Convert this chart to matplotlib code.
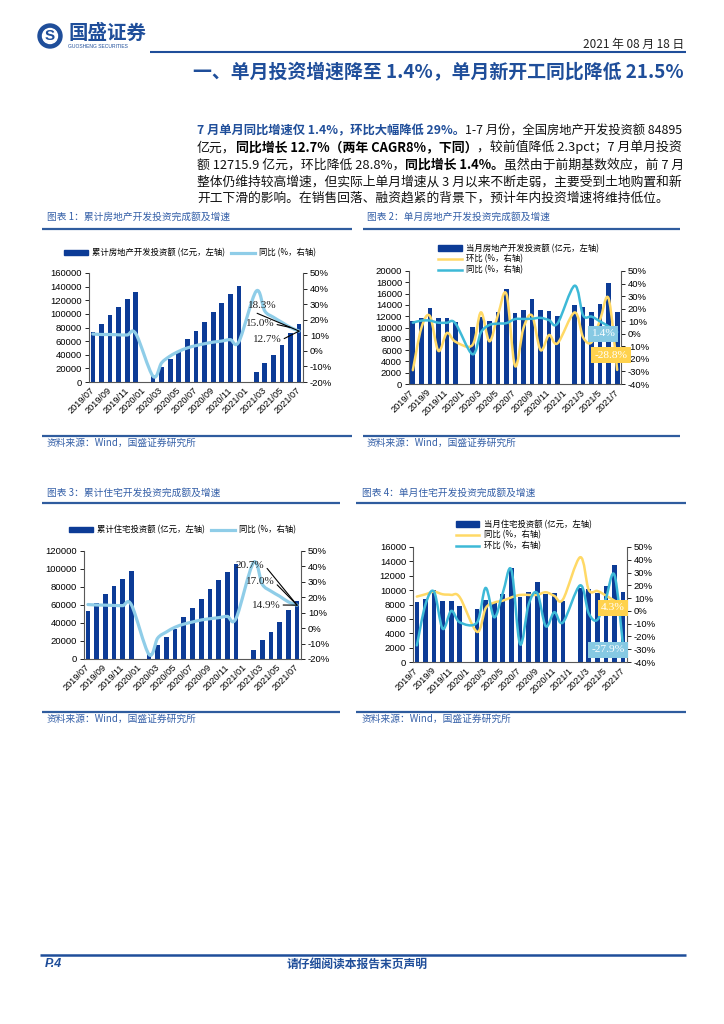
import numpy as np
import matplotlib
matplotlib.use("Agg")
import matplotlib.pyplot as plt
from matplotlib.path import Path
from matplotlib.patches import PathPatch, Patch, Circle
from matplotlib.lines import Line2D

W, H = 724, 1024
plt.rcParams['font.family'] = ['Noto Sans CJK SC', 'DejaVu Sans']
NUM_FONT = ['Liberation Sans', 'DejaVu Sans']
SERIF = ['Liberation Serif', 'DejaVu Serif']

BAR = '#0C3B96'
SKY = '#8FCDE8'
YEL = '#FFD966'
CYAN = '#3DB9D7'
NAVY = '#1F4E9A'
CAP = '#3560A8'

# ---------------- data (Jan is merged into Feb -> None) ----------------
xlab_c = ['2019/07', '2019/09', '2019/11', '2020/01', '2020/03', '2020/05', '2020/07',
          '2020/09', '2020/11', '2021/01', '2021/03', '2021/05', '2021/07']
xlab_m = ['2019/7', '2019/9', '2019/11', '2020/1', '2020/3', '2020/5', '2020/7',
          '2020/9', '2020/11', '2021/1', '2021/3', '2021/5', '2021/7']

cum_inv = [72843, 84589, 98008, 109603, 121265, 132194, None, 10115, 21963, 33103, 45920, 62780,
           75325, 88454, 103484, 116556, 129492, 141443, None, 13986, 27576, 40240, 54318, 72179, 84895]
cum_inv_yoy = [10.8, 10.5, 10.5, 10.3, 10.2, 11.0, None, -16.3, -7.7, -3.3, -0.3, 1.9,
               3.4, 4.6, 5.6, 6.3, 7.2, 6.0, None, 38.3, 25.6, 21.6, 18.3, 15.0, 12.7]

mon_inv = [11234, 11746, 13419, 11595, 11662, 10929, None, 10115, 11848, 11140, 12817, 16860,
           12545, 13129, 15030, 13072, 12936, 11951, None, 13986, 13590, 12664, 14078, 17861, 12716]
mon_inv_mom = [-29.0, 4.6, 14.2, -13.6, 0.6, -6.3, None, -9.0, 17.1, -6.0, 15.1, 31.5,
               -25.6, 4.7, 14.5, -13.0, -1.0, -7.6, None, 17.0, -2.8, -6.8, 11.2, 28.0, -28.8]
mon_inv_yoy = [8.8, 10.5, 10.5, 8.8, 8.8, 8.3, None, -16.3, 1.1, 7.0, 8.1, 8.5,
               11.7, 11.8, 12.0, 12.7, 10.9, 8.3, None, 38.3, 14.7, 13.7, 9.8, 5.9, 1.4]

cum_res = [53700, 62400, 72000, 80600, 89000, 97600, None, 6900, 15800, 24000, 33300, 47000,
           56300, 66300, 77400, 87800, 96300, 105500, None, 10000, 21100, 30300, 40700, 54400, 64400]
cum_res_yoy = [15.3, 15.0, 14.9, 14.7, 14.6, 15.0, None, -17.0, -6.5, -2.5, 0.6, 2.6,
               4.0, 5.3, 6.1, 6.8, 7.6, 6.4, None, 42.5, 28.5, 24.0, 20.7, 17.0, 14.9]

mon_res = [8300, 8770, 10030, 8540, 8540, 7790, None, 7320, 8630, 8160, 9470, 13060,
           9100, 9700, 11100, 9470, 9560, 8540, None, 10360, 10200, 9560, 10590, 13480, 9700]
mon_res_yoy = [11.2, 13.0, 15.0, 13.0, 12.5, 10.6, None, -16.4, 2.0, 6.5, 8.0, 10.6,
               12.5, 12.5, 12.5, 14.6, 11.7, 9.0, None, 42.0, 16.4, 15.6, 12.0, 8.0, 4.3]
mon_res_mom = [-27.0, 5.0, 15.0, -14.0, 0.0, -9.0, None, -9.0, 18.0, -5.0, 14.0, 32.0,
               -26.0, 5.0, 14.0, -12.0, -1.0, -9.0, None, 20.0, -2.0, -7.0, 10.0, 28.0, -27.9]


def smooth_path(vals):
    pts = np.array([(i, v) for i, v in enumerate(vals) if v is not None], dtype=float)
    verts = [pts[0]]
    codes = [Path.MOVETO]
    n = len(pts)
    for i in range(n - 1):
        p0 = pts[i - 1] if i > 0 else pts[i]
        p1, p2 = pts[i], pts[i + 1]
        p3 = pts[i + 2] if i + 2 < n else pts[i + 1]
        verts += [p1 + (p2 - p0) / 6, p2 - (p3 - p1) / 6, p2]
        codes += [Path.CURVE4] * 3
    return Path(verts, codes)


fig = plt.figure(figsize=(W / 100, H / 100), dpi=100)
bg = fig.add_axes([0, 0, 1, 1])
bg.set_xlim(0, W)
bg.set_ylim(H, 0)
bg.axis('off')


def chart(box, bars, lines, lmax, lstep, rmin, rmax, xlabels):
    x0, y0, x1, y1 = box
    ax = fig.add_axes([x0 / W, 1 - y1 / H, (x1 - x0) / W, (y1 - y0) / H])
    bx = [i for i, v in enumerate(bars) if v is not None]
    ax.bar(bx, [bars[i] for i in bx], width=0.55, color=BAR, zorder=2)
    ax.set_xlim(-0.45, len(bars) - 0.55)
    ax.set_ylim(0, lmax)
    ax.set_yticks(np.arange(0, lmax + 1, lstep))
    ax.set_xticks(range(0, len(bars), 2))
    ax.set_xticklabels(xlabels, rotation=45, ha='right', va='center', rotation_mode='anchor')
    ax.tick_params(axis='y', direction='out', length=3, width=0.6, labelsize=6.8, pad=2)
    ax.tick_params(axis='x', length=0, labelsize=6.6, pad=5)
    for s in ['top', 'right']:
        ax.spines[s].set_visible(False)
    for s in ['left', 'bottom']:
        ax.spines[s].set_color('#595959')
        ax.spines[s].set_linewidth(0.8)
    ax2 = ax.twinx()
    for vals, col, lw in lines:
        ax2.add_patch(PathPatch(smooth_path(vals), fill=False, ec=col, lw=lw,
                                capstyle='round', joinstyle='round', zorder=3))
    ax2.set_ylim(rmin, rmax)
    rt = np.arange(rmin, rmax + 1, 10)
    ax2.set_yticks(rt)
    ax2.set_yticklabels([f'{v}%' for v in rt])
    ax2.tick_params(axis='y', direction='out', length=3, width=0.6, labelsize=6.8, pad=2)
    for s in ['top', 'left', 'bottom']:
        ax2.spines[s].set_visible(False)
    ax2.spines['right'].set_color('#595959')
    ax2.spines['right'].set_linewidth(0.8)
    for lab in ax.get_xticklabels() + ax.get_yticklabels() + ax2.get_yticklabels():
        lab.set_fontfamily(NUM_FONT)
    return ax, ax2


def legend(handles, labels, x, y, ncol):
    fig.legend(handles, labels, loc='center left', bbox_to_anchor=(x / W, 1 - y / H),
               ncol=ncol, frameon=False, fontsize=6, borderpad=0, handlelength=2.8,
               handleheight=0.6, handletextpad=0.5, columnspacing=0.8, labelspacing=0.2)


bar_h = Patch(color=BAR)

# chart 1
a1, b1 = chart((89, 273, 303, 382), cum_inv, [(cum_inv_yoy, SKY, 2.3)], 160000, 20000, -20, 50, xlab_c)
legend([bar_h, Line2D([], [], color=SKY, lw=2.3)],
       ['累计房地产开发投资额 (亿元，左轴)', '同比 (%，右轴)'], 60, 253, 2)

# chart 2
a2, b2 = chart((409, 271, 621, 384), mon_inv, [(mon_inv_mom, YEL, 1.8), (mon_inv_yoy, CYAN, 1.8)],
               20000, 2000, -40, 50, xlab_m)
legend([bar_h, Line2D([], [], color=YEL, lw=1.8), Line2D([], [], color=CYAN, lw=1.8)],
       ['当月房地产开发投资额 (亿元，左轴)', '环比 (%，右轴)', '同比 (%，右轴)'], 434, 259, 1)

# chart 3
a3, b3 = chart((84, 551, 301, 659), cum_res, [(cum_res_yoy, SKY, 2.3)], 120000, 20000, -20, 50, xlab_c)
legend([bar_h, Line2D([], [], color=SKY, lw=2.3)],
       ['累计住宅投资额 (亿元，左轴)', '同比 (%，右轴)'], 65, 530, 2)

# chart 4
a4, b4 = chart((413, 547, 627, 662), mon_res, [(mon_res_yoy, YEL, 1.8), (mon_res_mom, CYAN, 1.8)],
               16000, 2000, -40, 50, xlab_m)
legend([bar_h, Line2D([], [], color=YEL, lw=1.8), Line2D([], [], color=CYAN, lw=1.8)],
       ['当月住宅投资额 (亿元，左轴)', '同比 (%，右轴)', '环比 (%，右轴)'], 452, 535, 1)

top = fig.add_axes([0, 0, 1, 1])
top.set_xlim(0, W)
top.set_ylim(H, 0)
top.axis('off')

# leader-line labels on cumulative charts
ann = dict(arrowstyle='-', color='black', lw=0.8, shrinkA=0, shrinkB=0)
for ax2, vals, items in [(b1, cum_inv_yoy, [(22, 262, 306, (0.1, 0)), (23, 260, 324, (1, 0.5)), (24, 267, 340, (1, 0.5))]),
                         (b3, cum_res_yoy, [(22, 250, 565, (1, 0.5)), (23, 260, 582, (1, 0.5)), (24, 266, 605, (1, 0.5))])]:
    last = len(vals) - 1
    for i, tx, ty, rp in items:
        target = (last, vals[last]) if i != 23 or ax2 is b3 else (23, vals[23])
        ax2.annotate(f'{vals[i]:.1f}%', xy=target, xycoords='data', xytext=(tx, ty),
                     textcoords=top.transData, ha='center', va='center', fontsize=8,
                     family=SERIF, color='#222222',
                     arrowprops=dict(ann, relpos=rp), zorder=5)

# boxed labels on monthly charts
for tx, ty, s, fc in [(603, 334, f'{mon_inv_yoy[-1]:.1f}%', '#86C9E3'),
                      (611, 355, f'{mon_inv_mom[-1]:.1f}%', '#FFD24D'),
                      (613, 608, f'{mon_res_yoy[-1]:.1f}%', '#FFD24D'),
                      (608, 650, f'{mon_res_mom[-1]:.1f}%', '#86C9E3')]:
    top.text(tx, ty, s, ha='center', va='center', fontsize=8.2, color='white', family=SERIF,
             bbox=dict(boxstyle='square,pad=0.3', fc=fc, ec='none'), zorder=6)

# ---------------- page furniture ----------------
bg.add_patch(Circle((50, 36), 12, color=NAVY))
bg.add_patch(Circle((50, 36), 7.5, color='white'))
bg.text(50, 36.5, 'S', ha='center', va='center', fontsize=11, fontweight='bold', color=NAVY, family=NUM_FONT)
bg.text(68, 33, '国盛证券', ha='left', va='center', fontsize=14, fontweight='bold', color=NAVY)
bg.text(68, 46, 'GUOSHENG SECURITIES', ha='left', va='center', fontsize=3.6, color=NAVY, family=NUM_FONT)
bg.text(684, 44, '2021 年 08 月 18 日', ha='right', va='center', fontsize=8.5, color='#222222')
bg.plot([150, 686], [52, 52], color=NAVY, lw=1.5, solid_capstyle='butt')
bg.text(684, 73, '一、单月投资增速降至 1.4%，单月新开工同比降低 21.5%', ha='right', va='center',
        fontsize=13.6, fontweight='bold', color=NAVY)

STY = {'b': dict(color=NAVY, fontweight='bold'),
       'k': dict(color='black', fontweight='bold'),
       'n': dict(color='#111111')}
para = [
    [('7 月单月同比增速仅 1.4%，环比大幅降低 29%。', 'b'), ('1-7 月份，全国房地产开发投资额 84895', 'n')],
    [('亿元，', 'n'), ('同比增长 12.7%（两年 CAGR8%，下同）', 'k'), ('，较前值降低 2.3pct；7 月单月投资', 'n')],
    [('额 12715.9 亿元，环比降低 28.8%，', 'n'), ('同比增长 1.4%。', 'k'), ('虽然由于前期基数效应，前 7 月', 'n')],
    [('整体仍维持较高增速，但实际上单月增速从 3 月以来不断走弱，主要受到土地购置和新', 'n')],
    [('开工下滑的影响。在销售回落、融资趋紧的背景下，预计年内投资增速将维持低位。', 'n')],
]
rows = []
for k, segs in enumerate(para):
    y = 131 + 16.9 * k
    objs, prev = [], None
    for s, st in segs:
        if prev is None:
            t = bg.text(197, y, s, ha='left', va='center', fontsize=9, **STY[st])
        else:
            t = bg.annotate(s, xy=(1, 0), xycoords=prev, ha='left', va='bottom', fontsize=9, **STY[st])
        objs.append(t)
        prev = t
    rows.append(objs)

# captions and rules
for x, y, s in [(47, 217, '图表 1：累计房地产开发投资完成额及增速'), (367, 217, '图表 2：单月房地产开发投资完成额及增速'),
                (47, 493, '图表 3：累计住宅开发投资完成额及增速'), (362, 493, '图表 4：单月住宅开发投资完成额及增速'),
                (47, 443, '资料来源：Wind，国盛证券研究所'), (367, 443, '资料来源：Wind，国盛证券研究所'),
                (47, 719, '资料来源：Wind，国盛证券研究所'), (362, 719, '资料来源：Wind，国盛证券研究所')]:
    bg.text(x, y, s, ha='left', va='center', fontsize=7, color=CAP)
for xa, xb, y in [(42, 352, 229), (363, 680, 229), (42, 352, 436), (363, 680, 436),
                  (42, 340, 503), (356, 686, 503), (42, 340, 712), (356, 686, 712)]:
    bg.plot([xa, xb], [y, y], color='#2F5C9E', lw=1.6, solid_capstyle='butt')

bg.plot([40, 686], [955, 955], color=NAVY, lw=1.8, solid_capstyle='butt')
bg.text(45, 964, 'P.4', ha='left', va='center', fontsize=9, fontweight='bold', style='italic',
        color=NAVY, family=NUM_FONT)
bg.text(357, 964, '请仔细阅读本报告末页声明', ha='center', va='center', fontsize=8.5,
        fontweight='bold', color=NAVY)

# justify paragraph lines to the text block width
fig.canvas.draw()
r = fig.canvas.get_renderer()
fits = []
for objs in rows[:4]:
    xa = objs[0].get_window_extent(r).x0
    xb = objs[-1].get_window_extent(r).x1
    f = 9 * 487 / (xb - xa)
    fits.append(f)
    for t in objs:
        t.set_fontsize(f)
for t in rows[4]:
    t.set_fontsize(np.mean(fits))

fig.savefig('out.png', dpi=100)
